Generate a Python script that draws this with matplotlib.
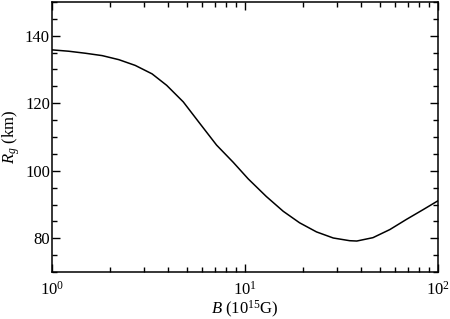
import numpy as np
import matplotlib
matplotlib.use("Agg")
import matplotlib.pyplot as plt
from matplotlib.ticker import MultipleLocator, LogLocator

plt.rcParams['font.family'] = 'Liberation Serif'
plt.rcParams['mathtext.fontset'] = 'custom'
plt.rcParams['mathtext.rm'] = 'Liberation Serif'
plt.rcParams['mathtext.it'] = 'Liberation Serif:italic'
plt.rcParams['font.size'] = 12

# field strength B (10^15 G) and R_g (km)
B = [1.0, 1.22, 1.49, 1.82, 2.22, 2.70, 3.30, 3.93, 4.79, 5.84, 7.13, 8.70,
     10.4, 12.9, 15.8, 19.2, 23.5, 28.7, 34.9, 38.0, 46.1, 56.4, 68.7, 83.9, 100.0]
Rg = [135.8, 135.4, 134.8, 134.1, 132.9, 131.2, 128.7, 125.3, 120.4, 114.0, 107.6, 102.5,
      97.6, 92.4, 88.0, 84.6, 81.9, 80.1, 79.3, 79.2, 80.2, 82.6, 85.6, 88.5, 91.1]

fig = plt.figure(figsize=(4.5, 3.19), dpi=100)
ax = fig.add_axes([0.1156, 0.147, 0.8574, 0.847])
ax.plot(B, Rg, color='black', lw=1.1)

ax.set_xscale('log')
ax.set_xlim(1, 100)
ax.set_ylim(70, 150)
ax.yaxis.set_major_locator(MultipleLocator(20))
ax.yaxis.set_minor_locator(MultipleLocator(5))
ax.xaxis.set_minor_locator(LogLocator(base=10, subs=np.arange(2, 10)))
ax.xaxis.set_minor_formatter(plt.NullFormatter())

ax.tick_params(which='both', direction='in', top=True, right=True, width=1.0)
ax.tick_params(which='major', length=6)
ax.tick_params(which='minor', length=3.5)
ax.tick_params(axis='x', pad=6)
ax.tick_params(axis='y', pad=1.5)
for s in ax.spines.values():
    s.set_linewidth(1.1)

ax.set_xlabel(r'$B$ (10$^{15}$G)')
ax.set_ylabel(r'$R_g$ (km)')
ax.xaxis.set_label_coords(0.5, -0.1)
ax.yaxis.set_label_coords(-0.077, 0.5)

fig.savefig('out.png', dpi=100)
